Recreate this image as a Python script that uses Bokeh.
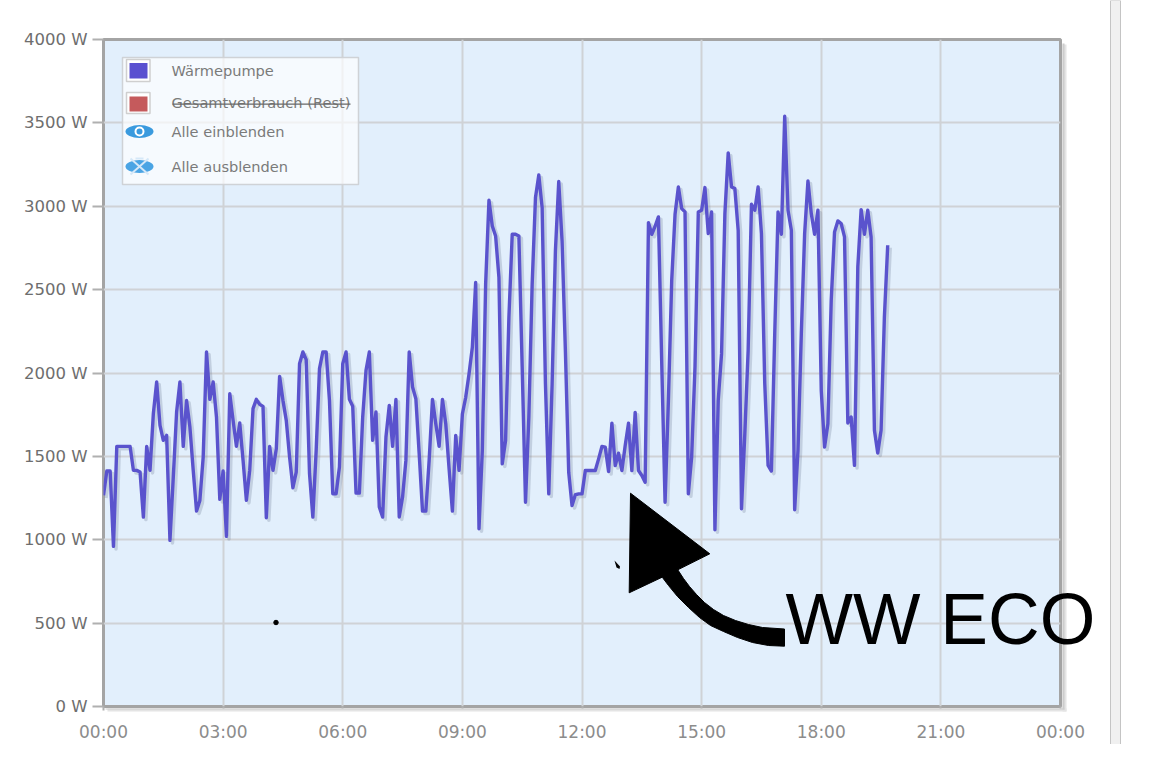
from bokeh.plotting import figure
from bokeh.layouts import column, row
from bokeh.embed import file_html
from bokeh.resources import INLINE
from bokeh.core.properties import value
from bokeh.models import Range1d, FixedTicker, ColumnDataSource, Dodge

# ---------- data ----------
watts = [1266,1412,1412,960,1560,1560,1560,1560,1560,1416,1416,1406,1136,1560,1416,1756,1946,1686,1596,1626,
 996,1376,1766,1946,1560,1836,1676,1416,1172,1236,1496,2126,1842,1946,1736,1242,1412,1020,1876,1716,
 1560,1700,1476,1236,1416,1786,1842,1812,1800,1132,1560,1416,1546,1980,1836,1716,1496,1312,1406,2056,
 2126,2080,1396,1136,1536,2026,2126,2126,1836,1276,1276,1436,2056,2126,1842,1800,1280,1280,1736,2016,
 2126,1596,1766,1196,1136,1616,1806,1560,1842,1136,1256,1476,2126,1916,1846,1516,1172,1172,1476,1842,
 1696,1560,1842,1696,1426,1172,1626,1416,1754,1854,1994,2154,2543,1066,1535,2533,3036,2882,2822,2573,
 1455,1595,2333,2832,2832,2822,2034,1225,1735,2533,3052,3188,2992,1934,1275,1934,2733,3148,2792,2134,
 1405,1205,1270,1275,1275,1415,1415,1415,1415,1485,1559,1555,1409,1699,1445,1519,1415,1565,1699,1415,
 1764,1415,1385,1345,2902,2832,2880,2936,2054,1225,1834,2556,2952,3116,2986,2966,1276,1496,2036,2966,
 2976,3112,2836,2966,1060,1836,2116,2956,3320,3116,3106,2856,1186,1636,2136,3012,2976,3116,2836,1936,
 1446,1412,2236,2966,2832,3540,2976,2856,1180,1536,2236,2836,3152,2956,2832,2976,1896,1556,1696,2436,
 2846,2912,2896,2816,1700,1736,1446,2636,2980,2832,2976,2816,1656,1520,1656,2336,2766]
minutes = [5 * i for i in range(len(watts))]
x_ticks = [0, 180, 360, 540, 720, 900, 1080, 1260, 1440]
x_labels = ["00:00","03:00","06:00","09:00","12:00","15:00","18:00","21:00","00:00"]
y_ticks = [0, 500, 1000, 1500, 2000, 2500, 3000, 3500, 4000]
y_labels = ["0 W","500 W","1000 W","1500 W","2000 W","2500 W","3000 W","3500 W","4000 W"]
legend_items = ["Wärmepumpe", "Gesamtverbrauch (Rest)", "Alle einblenden", "Alle ausblenden"]
annotation_text = "WW ECO"

# ---------- page geometry (pixels of the window) ----------
W, H = 1154, 744
F_L, F_R, F_T, F_B = 103, 1060, 39, 706

p = figure(width=W, height=H, output_backend="svg", toolbar_location=None,
           x_range=Range1d(0, 1440), y_range=Range1d(0, 4000),
           min_border_left=F_L, min_border_right=W - F_R,
           min_border_top=F_T, min_border_bottom=H - F_B,
           background_fill_color="#e2effc", border_fill_color="white",
           outline_line_color="#a4a4a4", outline_line_width=3)

p.xaxis.ticker = FixedTicker(ticks=x_ticks)
p.yaxis.ticker = FixedTicker(ticks=y_ticks)
p.xaxis.major_label_overrides = dict(zip(x_ticks, x_labels))
p.yaxis.major_label_overrides = dict(zip(y_ticks, y_labels))
for ax in (p.xaxis[0], p.yaxis[0]):
    ax.axis_line_color = None
    ax.minor_tick_line_color = None
    ax.major_tick_in = 0
    ax.major_tick_line_color = "#b0b0b0"
    ax.major_tick_line_width = 2
    ax.major_label_text_font = "DejaVu Sans"
p.xaxis.major_label_text_font_size = "17px"
p.yaxis.major_label_text_font_size = "16.5px"
p.xaxis.major_tick_out = 4
p.yaxis.major_tick_out = 11
p.xaxis.major_label_text_color = "#8c8c8c"
p.yaxis.major_label_text_color = "#6e6e6e"
p.xaxis.major_label_standoff = 11
p.yaxis.major_label_standoff = 5
p.xgrid.grid_line_color = "#cfd2d6"
p.ygrid.grid_line_color = "#cfd2d6"
p.xgrid.grid_line_width = 2
p.ygrid.grid_line_width = 2

# data line with its shadow
src = ColumnDataSource(dict(minutes=minutes, watts=watts))
p.line(x={"field": "minutes", "transform": Dodge(value=3.8)},
       y={"field": "watts", "transform": Dodge(value=-15)},
       source=src, line_color="#6e7f96", line_alpha=0.28, line_width=3.5, line_join="round")
p.line("minutes", "watts", source=src, line_color="#5a53cd", line_width=3.4, line_join="round")

# ---------- overlay in window pixels: shadow, scrollbar, legend panel, annotation ----------
o = figure(width=W, height=H, output_backend="svg", toolbar_location=None,
           x_range=Range1d(0, W), y_range=Range1d(H, 0),
           min_border=0, background_fill_color=None, border_fill_color=None,
           outline_line_color=None)
o.xaxis.visible = False
o.yaxis.visible = False
o.grid.visible = False

def box(x0, x1, y0, y1, col, alpha=1.0, line=None, lw=1):
    o.quad(left=[x0], right=[x1], top=[y0], bottom=[y1], fill_color=col, fill_alpha=alpha,
           line_color=line, line_width=lw)

box(1062, 1066, 44, 711, "#e4e4e4")
box(107, 1066, 708, 711, "#e4e4e4")
box(1062, 1064, 43, 709, "#cccccc")
box(105, 1064, 708, 709, "#cccccc")
box(1110, 1120, 0, H, "#f0f0f0", line="#c4c4c4")

box(122, 358, 57, 184, "white", alpha=0.68, line="#cfd2d6", lw=1.5)
def swatch(y0, y1, iy0, iy1, col):
    box(126, 149.5, y0, y1, "white", line="#cfcfcf", lw=1.5)
    box(129, 147, iy0, iy1, col)
swatch(59, 81, 62.5, 78, "#5a50d0")
swatch(92, 113, 96, 111, "#c55a5c")
o.text(x=[171] * 4, y=[70, 102, 131, 166], text=legend_items, text_font=value("DejaVu Sans"),
       text_font_size="14.6px", text_color="#7a7a7a", text_baseline="middle", text_align="left")
box(172, 350, 103, 104.2, "#666666")

o.ellipse(x=[139], y=[131], width=28, height=13, fill_color="#3a9ade", line_color=None)
o.ellipse(x=[139], y=[131], width=8, height=8, fill_color="#3a9ade", line_color="white", line_width=2)
o.ellipse(x=[139], y=[166], width=28, height=13, fill_color="#4aa4e4", line_color=None)
o.multi_line(xs=[[130, 148], [130, 148], [135, 143]], ys=[[158, 174], [174, 158], [158, 158]],
             line_color="#d5e8f8", line_width=2)

arrow_px = [(630,492.7),(709.3,553.3),(677.3,569.3),(683,578),(689,586),(696,594),(704,602),(713,609),
            (723,615),(735,620),(748,624),(762,627),(784,628.5),(784,645.7),(768,645),(752,642),(737,637),
            (723,631),(710,625),(699,617),(688,607),(677,596),(668,585),(661.7,576.7),(628.7,592.3)]
o.patch(x=[a for a, _ in arrow_px], y=[b for _, b in arrow_px], fill_color="black", line_color="black", line_width=1)
o.text(x=[785], y=[618.5], text=[annotation_text], text_font=value("Liberation Sans"),
       text_font_size="71.5px", text_color="black", text_baseline="middle", text_align="left")
o.scatter(x=[275.5], y=[622], size=4.5, color="black")
o.patch(x=[614, 619.5, 619, 616], y=[560, 566, 568.5, 567], fill_color="black", line_color=None)

page = column(row(p), row(o, margin=(-H, 0, 0, 0)))
open("out.html", "w").write(file_html(page, INLINE))
